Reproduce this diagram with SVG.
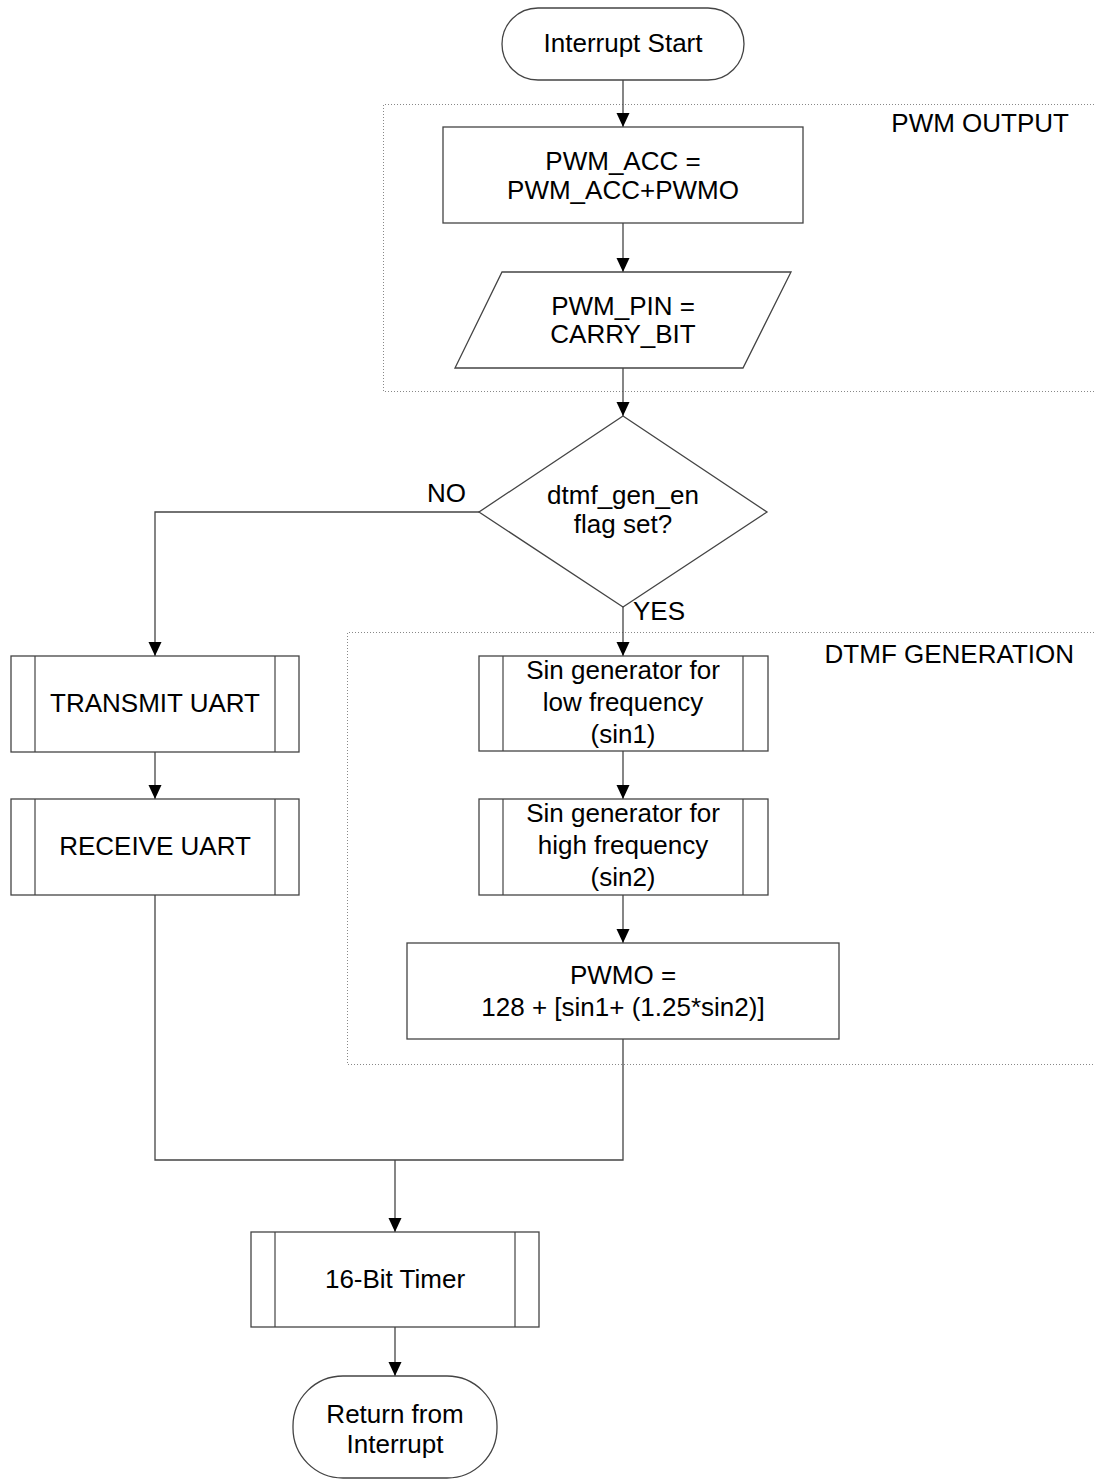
<svg xmlns="http://www.w3.org/2000/svg" width="1094" height="1484" viewBox="0 0 1094 1484">
<defs>
<marker id="arr" markerWidth="15" markerHeight="14" refX="14" refY="6.5" orient="auto" markerUnits="userSpaceOnUse">
<path d="M0,0 L14,6.5 L0,13 z" fill="#000"/>
</marker>
<style>
.shape{fill:#fff;stroke:#444;stroke-width:1.3}
.inner{fill:none;stroke:#444;stroke-width:1.2}
.conn{fill:none;stroke:#444;stroke-width:1.3}
.arrow{marker-end:url(#arr)}
.group{fill:none;stroke:#888;stroke-width:1;stroke-dasharray:1 2}
text{font-family:"Liberation Sans",Arial,sans-serif;font-size:26px;fill:#000}
.c{text-anchor:middle}
.e{text-anchor:end}
</style>
</defs>
<rect width="1094" height="1484" fill="#fff"/>

<g id="group-pwm-output">
<path class="group" d="M1094,104.5 L383.5,104.5 L383.5,391.5 L1094,391.5"/>
<text class="e" x="1069" y="132">PWM OUTPUT</text>
</g>
<g id="group-dtmf-generation">
<path class="group" d="M1094,632.5 L347.5,632.5 L347.5,1064.5 L1094,1064.5"/>
<text class="e" x="1074" y="663">DTMF GENERATION</text>
</g>

<g id="connectors">
<path class="conn arrow" d="M623,80 L623,127"/>
<path class="conn arrow" d="M623,223 L623,272"/>
<path class="conn arrow" d="M623,368 L623,416"/>
<path class="conn arrow" d="M479,512 L155,512 L155,656"/>
<path class="conn arrow" d="M623,607 L623,656"/>
<path class="conn arrow" d="M155,752 L155,799"/>
<path class="conn arrow" d="M623,751 L623,799"/>
<path class="conn arrow" d="M623,895 L623,943"/>
<path class="conn" d="M155,895 L155,1160 L623,1160 L623,1039"/>
<path class="conn arrow" d="M395,1160 L395,1232"/>
<path class="conn arrow" d="M395,1327 L395,1376"/>
<text x="427" y="502">NO</text>
<text x="633" y="620">YES</text>
</g>

<g id="start">
<rect class="shape" x="502" y="8" width="242" height="72" rx="36" ry="36"/>
<text class="c" x="623" y="52">Interrupt Start</text>
</g>

<g id="pwm-acc">
<rect class="shape" x="443" y="127" width="360" height="96"/>
<text class="c" x="623" y="170">PWM_ACC =</text>
<text class="c" x="623" y="199">PWM_ACC+PWMO</text>
</g>

<g id="pwm-pin">
<polygon class="shape" points="502,272 791,272 743,368 455,368"/>
<text class="c" x="623" y="315">PWM_PIN =</text>
<text class="c" x="623" y="343">CARRY_BIT</text>
</g>

<g id="decision">
<polygon class="shape" points="623,416 767,512 623,607 479,512"/>
<text class="c" x="623" y="504">dtmf_gen_en</text>
<text class="c" x="623" y="533">flag set?</text>
</g>

<g id="transmit-uart">
<rect class="shape" x="11" y="656" width="288" height="96"/>
<path class="inner" d="M35,656 V752 M275,656 V752"/>
<text class="c" x="155" y="712">TRANSMIT UART</text>
</g>

<g id="receive-uart">
<rect class="shape" x="11" y="799" width="288" height="96"/>
<path class="inner" d="M35,799 V895 M275,799 V895"/>
<text class="c" x="155" y="855">RECEIVE UART</text>
</g>

<g id="sin1">
<rect class="shape" x="479" y="656" width="289" height="95"/>
<path class="inner" d="M503,656 V751 M743,656 V751"/>
<text class="c" x="623" y="679">Sin generator for</text>
<text class="c" x="623" y="711">low frequency</text>
<text class="c" x="623" y="743">(sin1)</text>
</g>

<g id="sin2">
<rect class="shape" x="479" y="799" width="289" height="96"/>
<path class="inner" d="M503,799 V895 M743,799 V895"/>
<text class="c" x="623" y="822">Sin generator for</text>
<text class="c" x="623" y="854">high frequency</text>
<text class="c" x="623" y="886">(sin2)</text>
</g>

<g id="pwmo">
<rect class="shape" x="407" y="943" width="432" height="96"/>
<text class="c" x="623" y="984">PWMO =</text>
<text class="c" x="623" y="1016">128 + [sin1+ (1.25*sin2)]</text>
</g>

<g id="timer">
<rect class="shape" x="251" y="1232" width="288" height="95"/>
<path class="inner" d="M275,1232 V1327 M515,1232 V1327"/>
<text class="c" x="395" y="1288">16-Bit Timer</text>
</g>

<g id="end">
<rect class="shape" x="293" y="1376" width="204" height="102" rx="50" ry="50"/>
<text class="c" x="395" y="1423">Return from</text>
<text class="c" x="395" y="1453">Interrupt</text>
</g>
</svg>
